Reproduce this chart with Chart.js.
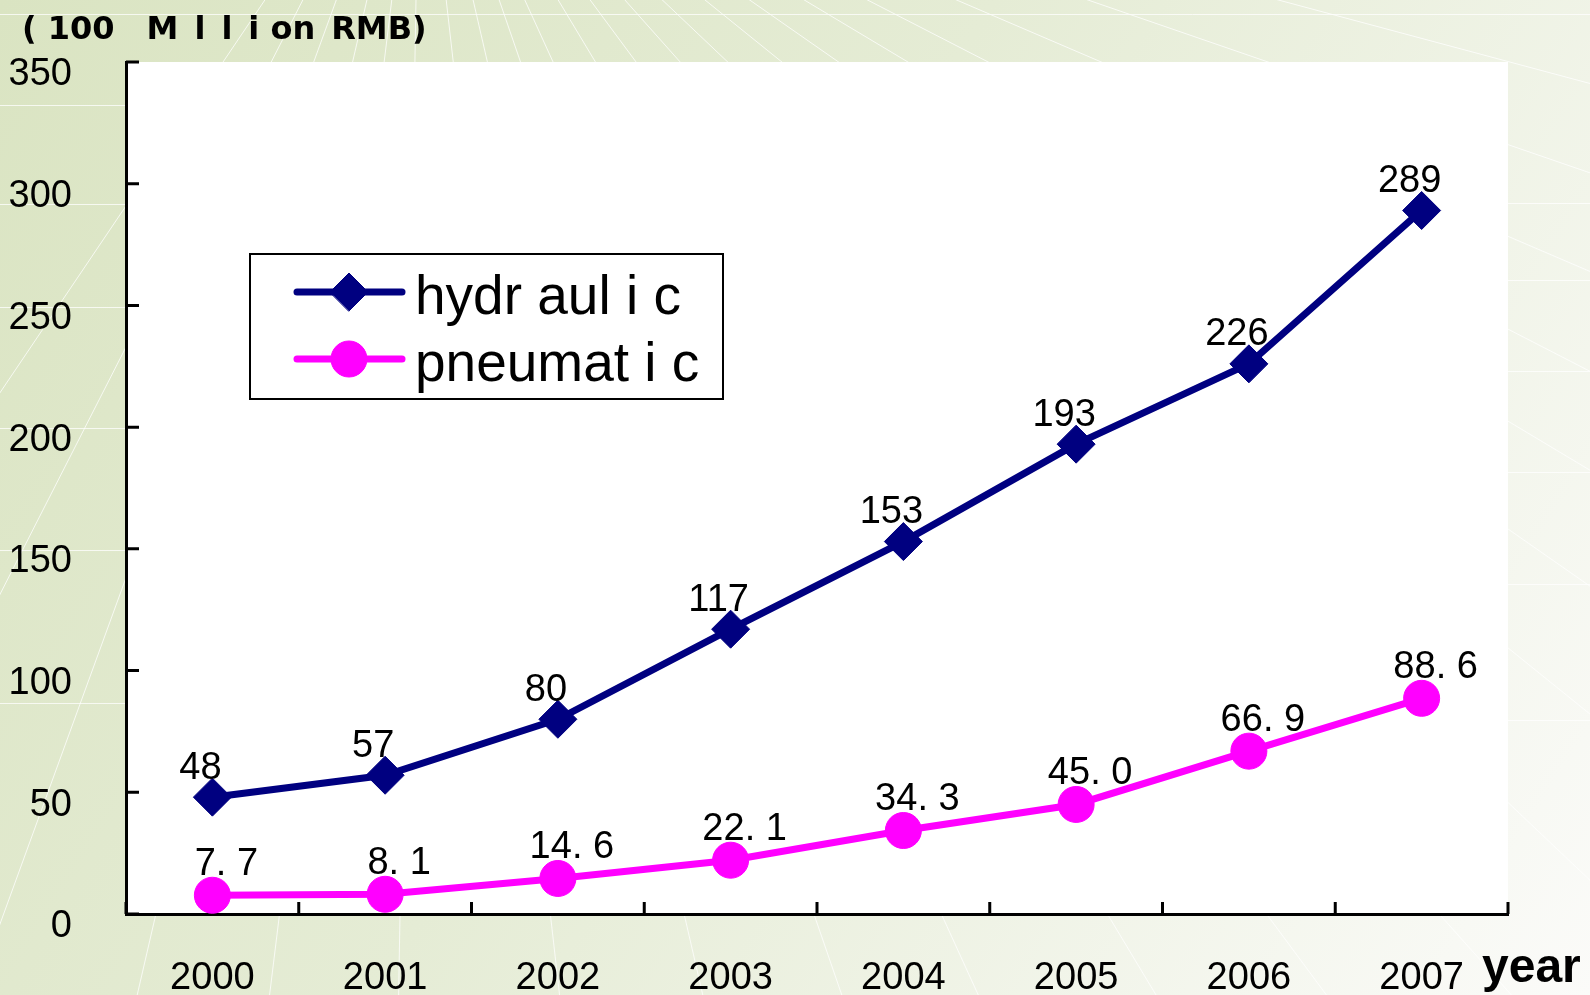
<!DOCTYPE html>
<html>
<head>
<meta charset="utf-8">
<script src="https://cdn.jsdelivr.net/npm/chart.js@4.4.0/dist/chart.umd.min.js"></script>
<style>
html, body { margin: 0; padding: 0; background: #fff; }
#wrap { width: 1590px; height: 995px; position: relative; }
</style>
</head>
<body>
<div id="wrap"><canvas id="marketChart"></canvas></div>
<script>
// market size, 100 million RMB
const years = ["2000", "2001", "2002", "2003", "2004", "2005", "2006", "2007"];
const hydraulic = [48, 57, 80, 117, 153, 193, 226, 289];
const pneumatic = [7.7, 8.1, 14.6, 22.1, 34.3, 45.0, 66.9, 88.6];
const seriesNames = ["hydr aul i c", "pneumat i c"];
const yMin = 0, yMax = 350, yStep = 50;
const unitTitle = "( 100\u2002\u2002M\u2002l\u2002l\u2002i on\u2002RMB)";
const xTitle = "year";

const NAVY = "#000080";
const MAGENTA = "#FF00FF";
const FONT = '"Liberation Sans", Arial, sans-serif';

Chart.defaults.font.family = FONT;
Chart.defaults.color = "#000";

// background with the pale green perspective grid + white plot area
const backdrop = {
    id: "backdrop",
    beforeDraw(chart) {
        const { ctx, width, height, chartArea } = chart;
        ctx.save();
        const g = ctx.createLinearGradient(0, 0, width, height);
        g.addColorStop(0, "#dae4c2");
        g.addColorStop(0.45, "#e5ecd5");
        g.addColorStop(1, "#fbfbf9");
        ctx.fillStyle = g;
        ctx.fillRect(0, 0, width, height);

        ctx.strokeStyle = "rgba(255,255,255,0.75)";
        ctx.lineWidth = 1;
        const vx = 420, vy = -230;
        const angles = [15, 19, 23.2, 27.2, 30.9, 34.9, 38.9, 43.5, 48.3, 53.5, 59, 65.5,
            71, 77, 83.5, 91, 97, 103, 110, 117, 124];
        ctx.beginPath();
        angles.forEach(a => {
            const r = a * Math.PI / 180;
            ctx.moveTo(vx, vy);
            ctx.lineTo(vx + Math.cos(r) * 4000, vy + Math.sin(r) * 4000);
        });
        ctx.moveTo(0, 14.5);
        ctx.lineTo(width, 14.5);
        [105, 204, 307, 428, 550, 703].forEach(y => {
            ctx.moveTo(0, y + 0.5);
            ctx.lineTo(chartArea.left, y + 0.5);
        });
        [203, 280, 371, 472, 584, 720].forEach(y => {
            ctx.moveTo(chartArea.right, y + 0.5);
            ctx.lineTo(width, y + 0.5);
        });
        ctx.stroke();

        ctx.fillStyle = "#fff";
        ctx.fillRect(chartArea.left, chartArea.top,
            chartArea.right - chartArea.left, chartArea.bottom - chartArea.top);

        ctx.fillStyle = "#000";
        ctx.font = 'bold 32px "DejaVu Sans", sans-serif';
        ctx.textAlign = "left";
        ctx.textBaseline = "alphabetic";
        ctx.fillText(unitTitle, 22, 39);
        ctx.restore();
    }
};

// inward tick marks on both axes
const innerTicks = {
    id: "innerTicks",
    beforeDatasetsDraw(chart) {
        const { ctx, chartArea, scales } = chart;
        ctx.save();
        ctx.strokeStyle = "#000";
        ctx.lineWidth = 3;
        ctx.beginPath();
        scales.y.ticks.forEach(t => {
            const y = scales.y.getPixelForValue(t.value);
            ctx.moveTo(chartArea.left, y);
            ctx.lineTo(chartArea.left + 13, y);
        });
        for (let i = 0; i <= years.length; i++) {
            const x = scales.x.getPixelForValue(i - 0.5);
            ctx.moveTo(x, chartArea.bottom);
            ctx.lineTo(x, chartArea.bottom - 12);
        }
        ctx.stroke();
        ctx.restore();
    }
};

// value labels above the points
const valueLabels = {
    id: "valueLabels",
    afterDatasetsDraw(chart) {
        const { ctx } = chart;
        ctx.save();
        ctx.font = "38px " + FONT;
        ctx.fillStyle = "#000";
        ctx.textAlign = "center";
        ctx.textBaseline = "middle";
        chart.data.datasets.forEach((ds, di) => {
            const meta = chart.getDatasetMeta(di);
            meta.data.forEach((pt, i) => {
                const v = ds.data[i];
                const txt = di === 0 ? String(v) : v.toFixed(1).replace(".", ". ");
                const dx = di === 0 ? -12 : 14;
                const dy = di === 0 ? -29 : -31;
                ctx.fillText(txt, pt.x + dx, pt.y + dy);
            });
        });
        ctx.restore();
    }
};

// boxed legend inside the plot + "year" axis word
const boxLegend = {
    id: "boxLegend",
    afterDraw(chart) {
        const { ctx, chartArea, scales } = chart;
        const left = chartArea.left + 124, top = chartArea.top + 192;
        const w = 473, h = 145;
        ctx.save();
        ctx.fillStyle = "#fff";
        ctx.fillRect(left, top, w, h);
        ctx.strokeStyle = "#000";
        ctx.lineWidth = 2;
        ctx.strokeRect(left, top, w, h);

        const rows = [top + 38, top + 105];
        chart.data.datasets.forEach((ds, di) => {
            const y = rows[di];
            ctx.strokeStyle = ds.borderColor;
            ctx.lineWidth = 7;
            ctx.lineCap = "round";
            ctx.beginPath();
            ctx.moveTo(left + 47, y);
            ctx.lineTo(left + 152, y);
            ctx.stroke();
            ctx.fillStyle = ds.backgroundColor;
            ctx.strokeStyle = ds.borderColor;
            ctx.lineWidth = 1;
            Chart.helpers.drawPoint(ctx, {
                pointStyle: ds.pointStyle, radius: ds.pointRadius, borderWidth: 1, rotation: 0
            }, left + 99, y);
            ctx.fillStyle = "#000";
            ctx.font = "55px " + FONT;
            ctx.textAlign = "left";
            ctx.textBaseline = "alphabetic";
            ctx.fillText(ds.label, left + 165, y + 22);
        });

        ctx.font = "bold 48px " + FONT;
        ctx.fillStyle = "#000";
        ctx.textAlign = "left";
        ctx.textBaseline = "alphabetic";
        ctx.fillText(xTitle, scales.x.right - 26, chart.height - 13);
        ctx.restore();
    }
};

const ctx = document.getElementById("marketChart").getContext("2d");
new Chart(ctx, {
    type: "line",
    data: {
        labels: years,
        datasets: [{
            label: seriesNames[0],
            data: hydraulic,
            borderColor: NAVY,
            backgroundColor: NAVY,
            borderWidth: 7,
            pointStyle: "rectRot",
            pointRadius: 19,
            pointBorderWidth: 1,
            tension: 0,
            fill: false
        }, {
            label: seriesNames[1],
            data: pneumatic,
            borderColor: MAGENTA,
            backgroundColor: MAGENTA,
            borderWidth: 7,
            pointStyle: "circle",
            pointRadius: 18,
            pointBorderWidth: 1,
            tension: 0,
            fill: false
        }]
    },
    options: {
        responsive: true,
        maintainAspectRatio: false,
        animation: false,
        layout: { padding: { left: 0, right: 82, top: 62, bottom: 0 } },
        plugins: {
            legend: { display: false },
            tooltip: { enabled: false },
            title: { display: false }
        },
        scales: {
            x: {
                offset: true,
                grid: { display: true, drawOnChartArea: false, drawTicks: false },
                border: { display: true, color: "#000", width: 3 },
                ticks: { font: { size: 38 }, color: "#000", padding: 42, maxRotation: 0 },
                afterFit(scale) {
                    scale.height = 81;
                    scale.paddingLeft = 0;
                    scale.paddingRight = 0;
                }
            },
            y: {
                min: yMin,
                max: yMax,
                grid: { display: true, drawOnChartArea: false, drawTicks: false },
                border: { display: true, color: "#000", width: 3 },
                ticks: { stepSize: yStep, font: { size: 38 }, color: "#000", padding: 54, labelOffset: 13 },
                afterFit(scale) {
                    scale.width = 126;
                    scale.paddingTop = 0;
                    scale.paddingBottom = 0;
                }
            }
        }
    },
    plugins: [backdrop, innerTicks, valueLabels, boxLegend]
});
</script>
</body>
</html>
